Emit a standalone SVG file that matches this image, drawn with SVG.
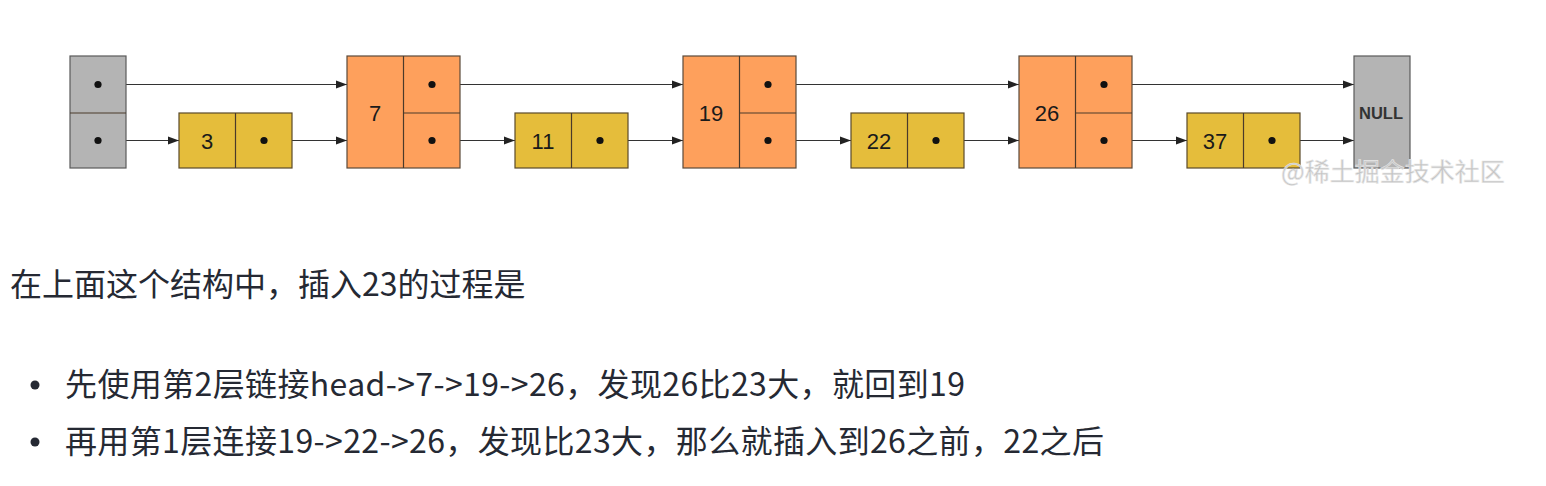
<svg xmlns="http://www.w3.org/2000/svg" width="1546" height="486" viewBox="0 0 1546 486">
<style>
.g{fill:#b4b4b4;stroke:#5a5a5a;stroke-width:1.2}
.o{fill:#fea05c;stroke:#5a4a3a;stroke-width:1.2}
.y{fill:#e5bd3b;stroke:#5a4a2a;stroke-width:1.2}
.dv{stroke:#4a3a2a;stroke-width:1.2;fill:none}
.dot{fill:#111}
.num{font-family:"Liberation Sans",Arial,sans-serif;font-size:22px;fill:#1a1a1a;text-anchor:middle}
.nul{font-family:"Liberation Sans",Arial,sans-serif;font-size:16.5px;font-weight:bold;fill:#333;text-anchor:middle}
.cn{font-family:"Noto Sans CJK SC","Noto Sans",sans-serif;font-size:32px;fill:#252933}
.wm{font-family:"Noto Sans CJK SC",sans-serif;font-size:25px;fill:#c4c4c4;stroke:#e8e8e8;stroke-width:0.6}
.ln{stroke:#333;stroke-width:1.1;fill:none;marker-end:url(#ah)}
</style>
<defs>
<marker id="ah" markerWidth="12" markerHeight="10" refX="11" refY="5" orient="auto" markerUnits="userSpaceOnUse">
<path d="M0,1 L11,5 L0,9 Z" fill="#222"/>
</marker>
</defs>
<rect width="1546" height="486" fill="#fff"/>

<g id="connectors">
<line class="ln" x1="98" y1="84.5" x2="347" y2="84.5"/>
<line class="ln" x1="98" y1="140.5" x2="179" y2="140.5"/>
<line class="ln" x1="264" y1="140.5" x2="347" y2="140.5"/>
<line class="ln" x1="432" y1="84.5" x2="683" y2="84.5"/>
<line class="ln" x1="432" y1="140.5" x2="515" y2="140.5"/>
<line class="ln" x1="600" y1="140.5" x2="683" y2="140.5"/>
<line class="ln" x1="768" y1="84.5" x2="1019" y2="84.5"/>
<line class="ln" x1="768" y1="140.5" x2="851" y2="140.5"/>
<line class="ln" x1="936" y1="140.5" x2="1019" y2="140.5"/>
<line class="ln" x1="1104" y1="84.5" x2="1354" y2="84.5"/>
<line class="ln" x1="1104" y1="140.5" x2="1187" y2="140.5"/>
<line class="ln" x1="1272" y1="140.5" x2="1354" y2="140.5"/>
</g>

<g id="head">
<rect class="g" x="70" y="56" width="56" height="112"/>
<line class="dv" x1="70" y1="113" x2="126" y2="113"/>
<circle class="dot" cx="98" cy="84.5" r="3.6"/>
<circle class="dot" cx="98" cy="140.5" r="3.6"/>
</g>

<g id="n3">
<rect class="y" x="179" y="113" width="113" height="55"/>
<line class="dv" x1="235.5" y1="113" x2="235.5" y2="168"/>
<text class="num" x="207" y="149">3</text>
<circle class="dot" cx="264" cy="140.5" r="3.6"/>
</g>

<g id="n7">
<rect class="o" x="347" y="56" width="113" height="112"/>
<line class="dv" x1="403.5" y1="56" x2="403.5" y2="168"/>
<line class="dv" x1="403.5" y1="113" x2="460" y2="113"/>
<text class="num" x="375" y="121">7</text>
<circle class="dot" cx="432" cy="84.5" r="3.6"/>
<circle class="dot" cx="432" cy="140.5" r="3.6"/>
</g>

<g id="n11">
<rect class="y" x="515" y="113" width="113" height="55"/>
<line class="dv" x1="571.5" y1="113" x2="571.5" y2="168"/>
<text class="num" x="543" y="149">11</text>
<circle class="dot" cx="600" cy="140.5" r="3.6"/>
</g>

<g id="n19">
<rect class="o" x="683" y="56" width="113" height="112"/>
<line class="dv" x1="739.5" y1="56" x2="739.5" y2="168"/>
<line class="dv" x1="739.5" y1="113" x2="796" y2="113"/>
<text class="num" x="711" y="121">19</text>
<circle class="dot" cx="768" cy="84.5" r="3.6"/>
<circle class="dot" cx="768" cy="140.5" r="3.6"/>
</g>

<g id="n22">
<rect class="y" x="851" y="113" width="113" height="55"/>
<line class="dv" x1="907.5" y1="113" x2="907.5" y2="168"/>
<text class="num" x="879" y="149">22</text>
<circle class="dot" cx="936" cy="140.5" r="3.6"/>
</g>

<g id="n26">
<rect class="o" x="1019" y="56" width="113" height="112"/>
<line class="dv" x1="1075.5" y1="56" x2="1075.5" y2="168"/>
<line class="dv" x1="1075.5" y1="113" x2="1132" y2="113"/>
<text class="num" x="1047" y="121">26</text>
<circle class="dot" cx="1104" cy="84.5" r="3.6"/>
<circle class="dot" cx="1104" cy="140.5" r="3.6"/>
</g>

<g id="n37">
<rect class="y" x="1187" y="113" width="113" height="55"/>
<line class="dv" x1="1243.5" y1="113" x2="1243.5" y2="168"/>
<text class="num" x="1215" y="149">37</text>
<circle class="dot" cx="1272" cy="140.5" r="3.6"/>
</g>

<g id="null">
<rect class="g" x="1354" y="56" width="56" height="112"/>
<text class="nul" x="1381" y="119">NULL</text>
</g>

<text class="wm" x="1281" y="181">@稀土掘金技术社区</text>

<g id="text">
<text class="cn" x="10" y="296">在上面这个结构中，插入23的过程是</text>
<circle cx="35" cy="385" r="4.5" fill="#252933"/>
<text class="cn" x="65" y="396" textLength="900" lengthAdjust="spacing">先使用第2层链接head-&gt;7-&gt;19-&gt;26，发现26比23大，就回到19</text>
<circle cx="35" cy="442" r="4.5" fill="#252933"/>
<text class="cn" x="65" y="453" textLength="1039" lengthAdjust="spacing">再用第1层连接19-&gt;22-&gt;26，发现比23大，那么就插入到26之前，22之后</text>
</g>
</svg>
